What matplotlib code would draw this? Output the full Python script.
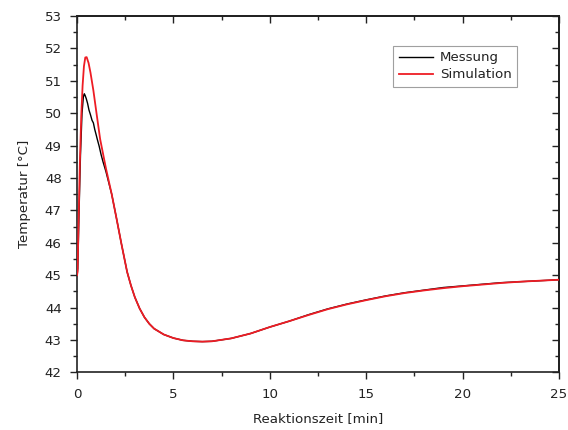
import matplotlib
matplotlib.use("Agg")
import matplotlib.pyplot as plt
from matplotlib.ticker import MultipleLocator

# Reaction time [min] and temperature [°C]
sim_t = [0, 0.03, 0.08, 0.15, 0.22, 0.29, 0.36, 0.43, 0.5, 0.6, 0.7, 0.85,
         1.0, 1.2, 1.5, 1.8, 2.05, 2.3, 2.6, 2.8, 3.0, 3.25, 3.5, 3.75, 4.0,
         4.5, 5.0, 5.5, 6.0, 6.5, 7.0, 8.0, 9.0, 10, 11, 12, 13, 14, 15, 16,
         17, 18, 19, 20, 21, 22, 23, 24, 25]
sim_T = [45.0, 45.1, 46.6, 48.5, 49.9, 50.85, 51.45, 51.72, 51.73, 51.55,
         51.25, 50.7, 50.05, 49.2, 48.3, 47.5, 46.75, 45.98, 45.1, 44.68,
         44.32, 43.97, 43.7, 43.5, 43.35, 43.17, 43.06, 42.99, 42.96, 42.95,
         42.96, 43.05, 43.2, 43.4, 43.58, 43.77, 43.95, 44.1, 44.23, 44.35,
         44.45, 44.53, 44.6, 44.66, 44.71, 44.76, 44.8, 44.83, 44.86]

mes_t = [0, 0.04, 0.1, 0.18, 0.26, 0.33, 0.38, 0.42, 0.48, 0.55, 0.62, 0.7,
         0.78, 0.85, 0.92, 1.0, 1.05, 1.15, 1.25, 1.35, 1.45, 1.5, 1.65, 1.8,
         2.05, 2.3, 2.6, 2.8, 3.0, 3.25, 3.5, 3.75, 4.0, 4.5, 5.0, 5.5, 6.0,
         6.5, 7.0, 8.0, 9.0, 10, 11, 12, 13, 14, 15, 16, 17, 18, 19, 20, 21,
         22, 23, 24, 25]
mes_T = [45.0, 45.2, 46.8, 48.7, 50.0, 50.5, 50.6, 50.55, 50.45, 50.3, 50.1,
         49.95, 49.78, 49.7, 49.5, 49.32, 49.2, 48.98, 48.72, 48.5, 48.3, 48.2,
         47.85, 47.5, 46.75, 45.98, 45.1, 44.68, 44.32, 43.97, 43.7, 43.5,
         43.35, 43.17, 43.06, 42.99, 42.96, 42.95, 42.96, 43.05, 43.2, 43.4,
         43.58, 43.78, 43.96, 44.11, 44.24, 44.36, 44.46, 44.54, 44.62, 44.67,
         44.72, 44.77, 44.8, 44.83, 44.86]

x_major = [0, 5, 10, 15, 20, 25]
y_major = list(range(42, 54))

plt.rcParams["font.family"] = ["DejaVu Sans"]
plt.rcParams["font.size"] = 9.6

fig = plt.figure(figsize=(5.68, 4.30), dpi=100)
ax = fig.add_axes([77 / 568, 1 - 372.4 / 430, 482 / 568, 356.4 / 430])

ax.plot(mes_t, mes_T, color="black", lw=1.0, label="Messung", zorder=2)
ax.plot(sim_t, sim_T, color="#ee1c24", lw=1.3, label="Simulation", zorder=3)

ax.set_xlim(0, 25)
ax.set_ylim(42, 53)
ax.set_xticks(x_major)
ax.set_yticks(y_major)
ax.xaxis.set_minor_locator(MultipleLocator(2.5))
ax.yaxis.set_minor_locator(MultipleLocator(0.5))
ax.tick_params(which="major", direction="out", length=5, width=1.0, pad=6,
               colors="#222222", labelcolor="#222222")
ax.tick_params(which="minor", direction="out", length=3, width=1.0,
               colors="#222222")
for s in ax.spines.values():
    s.set_linewidth(1.2)
    s.set_color("#222222")

# Mirrored inward ticks on the top and right sides
top = ax.secondary_xaxis("top")
top.set_xticks(x_major)
top.xaxis.set_minor_locator(MultipleLocator(2.5))
top.tick_params(which="major", direction="in", length=5, width=1.0,
                labeltop=False, colors="#222222")
top.tick_params(which="minor", direction="in", length=3, width=1.0,
                colors="#222222")
top.spines["top"].set_linewidth(1.2)

right = ax.secondary_yaxis("right")
right.set_yticks(y_major)
right.yaxis.set_minor_locator(MultipleLocator(0.5))
right.tick_params(which="major", direction="in", length=5, width=1.0,
                  labelright=False, colors="#222222")
right.tick_params(which="minor", direction="in", length=3, width=1.0,
                  colors="#222222")
right.spines["right"].set_linewidth(1.2)

ax.set_xlabel("Reaktionszeit [min]", color="#222222", labelpad=8)
ax.set_ylabel("Temperatur [°C]", color="#222222", labelpad=10)

leg = ax.legend(loc="upper right", bbox_to_anchor=(0.913, 0.916),
                borderaxespad=0, frameon=True, fancybox=False,
                edgecolor="#888888", handlelength=2.6, handletextpad=0.5,
                borderpad=0.4, labelspacing=0.3)
leg.get_frame().set_linewidth(0.8)
for t in leg.get_texts():
    t.set_color("#222222")

fig.savefig("out.png", dpi=100)
